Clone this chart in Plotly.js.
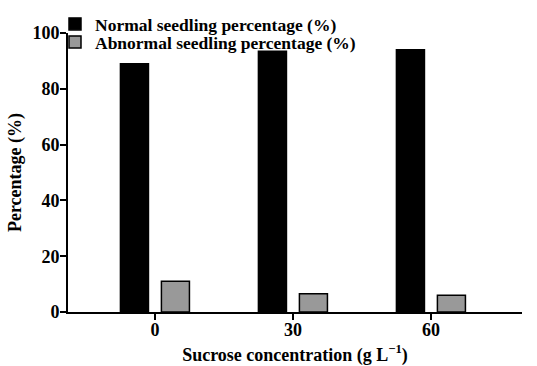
<!DOCTYPE html>
<html>
<head>
<meta charset="utf-8">
<script src="https://cdn.plot.ly/plotly-3.0.1.min.js"></script>
<style>html,body{margin:0;padding:0;background:#fff;}#chart{width:537px;height:366px;}</style>
</head>
<body>
<div id="chart"></div>
<script>
const categories = ["0", "30", "60"];
const normalSeedling = [89, 93.5, 94];
const abnormalSeedling = [11, 6.5, 6];
const seriesNames = ["Normal seedling percentage (%)", "Abnormal seedling percentage (%)"];
const yTicks = [0, 20, 40, 60, 80, 100];

const FONT = "Liberation Serif, Times New Roman, serif";

const data = [
  {type: "bar", x: categories, y: normalSeedling, name: seriesNames[0], legend: "legend",
   marker: {color: "#000000", line: {color: "#000000", width: 1.5}}},
  {type: "bar", x: categories, y: abnormalSeedling, name: seriesNames[1], legend: "legend2",
   marker: {color: "#999999", line: {color: "#000000", width: 1.5}}}
];

const legendStyle = {
  xref: "paper", yref: "paper", yanchor: "top", xanchor: "left",
  bgcolor: "rgba(0,0,0,0)", font: {family: FONT, size: 17.5, weight: "bold", color: "#000"},
  itemwidth: 30
};

const layout = {
  width: 537, height: 366,
  margin: {l: 68, r: 15, t: 33, b: 54, autoexpand: false},
  paper_bgcolor: "#ffffff", plot_bgcolor: "#ffffff",
  barmode: "group", bargap: 0.406, bargroupgap: 0.316,
  font: {family: FONT, color: "#000000"},
  showlegend: true,
  legend: Object.assign({}, legendStyle, {x: (55 - 68) / 454, y: 1 + 27 / 279}),
  legend2: Object.assign({}, legendStyle, {x: (55 - 68) / 454, y: 1 + 9 / 279}),
  xaxis: {
    type: "category", range: [-0.63, 2.66],
    showline: true, linecolor: "#000", linewidth: 2,
    ticks: "outside", ticklen: 6, tickwidth: 2, tickcolor: "#000",
    ticklabelstandoff: -6,
    showgrid: false, zeroline: false,
    tickfont: {family: FONT, size: 18, weight: "bold"},
    title: {text: "Sucrose concentration (g L<sup>−1</sup>)", font: {family: FONT, size: 18, weight: "bold"}}
  },
  yaxis: {
    range: [0, 100], tickvals: yTicks,
    showline: true, linecolor: "#000", linewidth: 2,
    ticks: "outside", ticklen: 6, tickwidth: 2, tickcolor: "#000",
    ticklabelstandoff: -3,
    showgrid: false, zeroline: false,
    tickfont: {family: FONT, size: 18, weight: "bold"},
    title: {text: "Percentage (%)", font: {family: FONT, size: 18, weight: "bold"}}
  }
};

Plotly.newPlot("chart", data, layout, {displayModeBar: false, staticPlot: true});
</script>
</body>
</html>
